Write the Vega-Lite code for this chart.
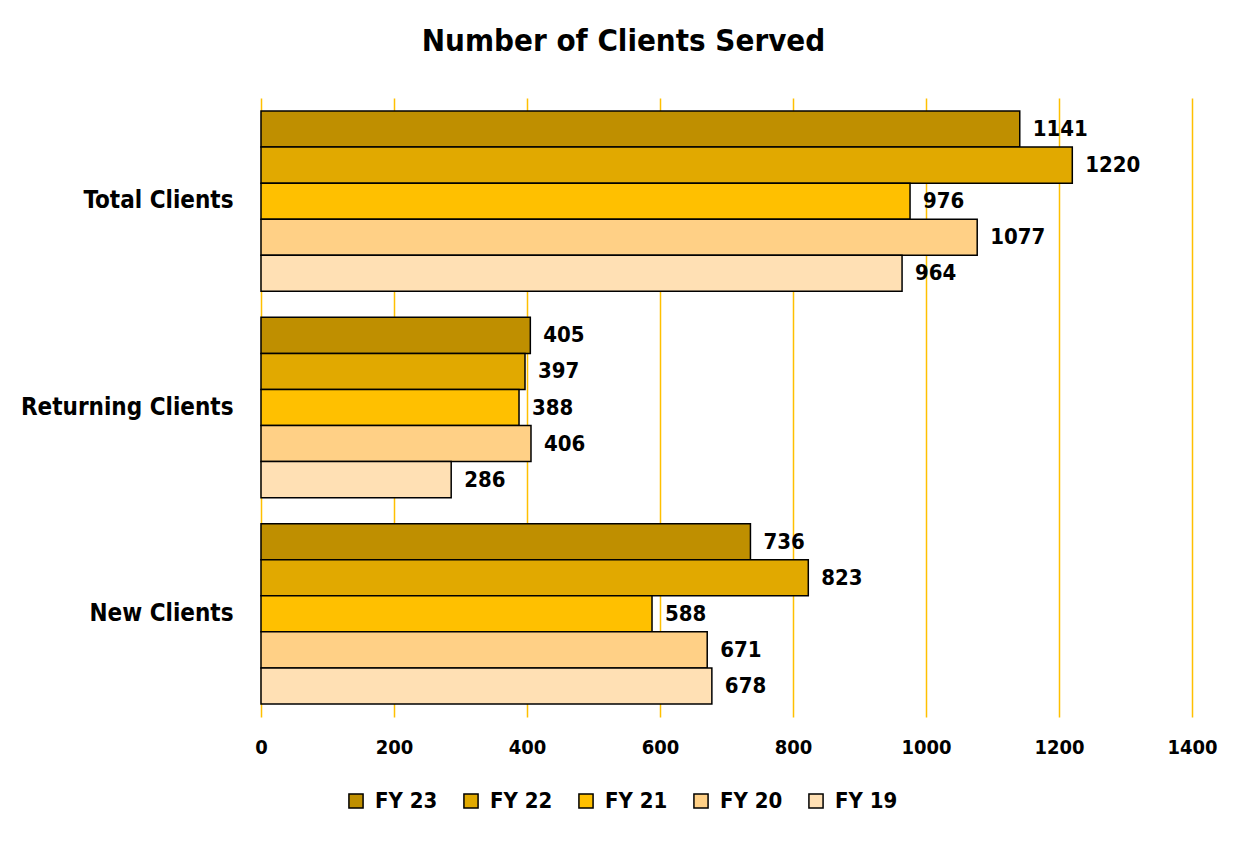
{
  "$schema": "https://vega.github.io/schema/vega-lite/v6.json",
  "autosize": {"type": "none"},
  "width": 931,
  "height": 619,
  "padding": {"left": 261, "top": 98, "right": 55, "bottom": 128},
  "background": "white",
  "title": {
    "text": "Number of Clients Served",
    "anchor": "middle",
    "dx": -103,
    "offset": 40,
    "font": "DejaVu Sans Condensed",
    "fontSize": 31,
    "fontWeight": "bold",
    "color": "black"
  },
  "data": {
    "values": [
      {"category": "Total Clients", "fy": "FY 23", "value": 1141},
      {"category": "Total Clients", "fy": "FY 22", "value": 1220},
      {"category": "Total Clients", "fy": "FY 21", "value": 976},
      {"category": "Total Clients", "fy": "FY 20", "value": 1077},
      {"category": "Total Clients", "fy": "FY 19", "value": 964},
      {"category": "Returning Clients", "fy": "FY 23", "value": 405},
      {"category": "Returning Clients", "fy": "FY 22", "value": 397},
      {"category": "Returning Clients", "fy": "FY 21", "value": 388},
      {"category": "Returning Clients", "fy": "FY 20", "value": 406},
      {"category": "Returning Clients", "fy": "FY 19", "value": 286},
      {"category": "New Clients", "fy": "FY 23", "value": 736},
      {"category": "New Clients", "fy": "FY 22", "value": 823},
      {"category": "New Clients", "fy": "FY 21", "value": 588},
      {"category": "New Clients", "fy": "FY 20", "value": 671},
      {"category": "New Clients", "fy": "FY 19", "value": 678}
    ]
  },
  "encoding": {
    "y": {
      "field": "category",
      "type": "nominal",
      "sort": ["Total Clients", "Returning Clients", "New Clients"],
      "scale": {"paddingInner": 0.126, "paddingOuter": 0.063},
      "axis": {
        "title": null,
        "domain": false,
        "ticks": false,
        "labelPadding": 28,
        "labelLimit": 400,
        "labelFont": "DejaVu Sans Condensed",
        "labelFontSize": 24,
        "labelFontWeight": "bold",
        "labelColor": "black"
      }
    },
    "yOffset": {
      "field": "fy",
      "type": "nominal",
      "sort": ["FY 23", "FY 22", "FY 21", "FY 20", "FY 19"],
      "scale": {"paddingInner": 0, "paddingOuter": 0}
    },
    "x": {
      "field": "value",
      "type": "quantitative",
      "scale": {"domain": [0, 1400], "nice": false},
      "axis": {
        "title": null,
        "values": [0, 200, 400, 600, 800, 1000, 1200, 1400],
        "format": "d",
        "labelFlush": false,
        "labelOverlap": false,
        "grid": true,
        "gridColor": "#FFC000",
        "gridWidth": 1.5,
        "gridOpacity": 1,
        "domain": false,
        "ticks": false,
        "labelPadding": 20,
        "labelFont": "DejaVu Sans Condensed",
        "labelFontSize": 20,
        "labelFontWeight": "bold",
        "labelColor": "black"
      }
    }
  },
  "layer": [
    {
      "mark": {"type": "bar", "stroke": "black", "strokeWidth": 1.5},
      "encoding": {
        "color": {
          "field": "fy",
          "type": "nominal",
          "sort": ["FY 23", "FY 22", "FY 21", "FY 20", "FY 19"],
          "scale": {
            "domain": ["FY 23", "FY 22", "FY 21", "FY 20", "FY 19"],
            "range": ["#BF8F00", "#E1A900", "#FFC000", "#FFD086", "#FFE0B4"]
          },
          "legend": {
            "title": null,
            "orient": "none",
            "legendX": 84,
            "legendY": 692,
            "direction": "horizontal",
            "symbolType": "square",
            "symbolSize": 200,
            "symbolStrokeColor": "black",
            "symbolStrokeWidth": 1.5,
            "symbolOpacity": 1,
            "labelFont": "DejaVu Sans Condensed",
            "labelFontSize": 22,
            "labelFontWeight": "bold",
            "labelColor": "black",
            "labelOffset": 8,
            "columnPadding": 22
          }
        }
      }
    },
    {
      "mark": {
        "type": "text",
        "align": "left",
        "baseline": "middle",
        "dx": 13,
        "font": "DejaVu Sans Condensed",
        "fontSize": 22,
        "fontWeight": "bold",
        "color": "black"
      },
      "encoding": {
        "text": {"field": "value", "type": "quantitative"}
      }
    }
  ],
  "config": {
    "view": {"stroke": null}
  }
}
